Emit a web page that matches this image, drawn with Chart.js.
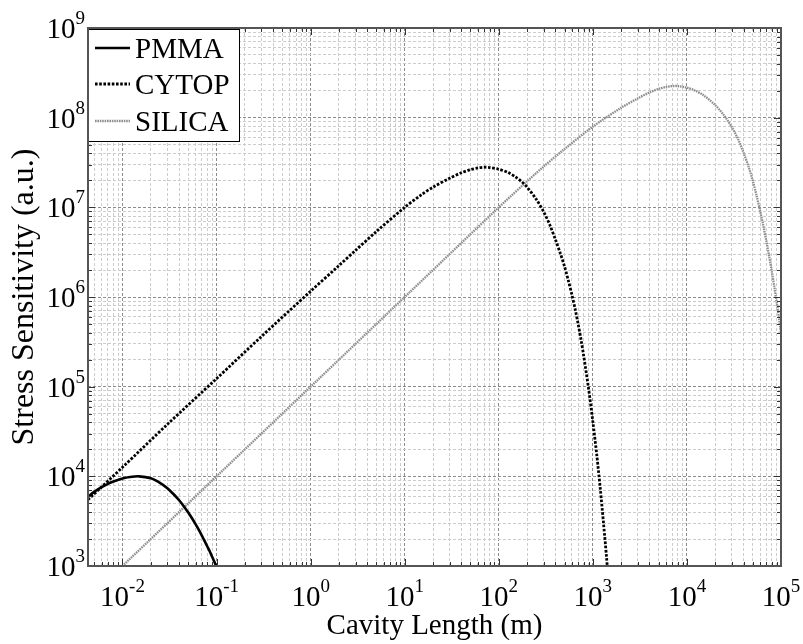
<!DOCTYPE html>
<html>
<head>
<meta charset="utf-8">
<script src="https://cdn.jsdelivr.net/npm/chart.js@4.4.1/dist/chart.umd.min.js"></script>
<style>
    html, body { margin: 0; padding: 0; background: #fff; }
    #chart { display: block; }
</style>
</head>
<body>
<canvas id="chart" width="803" height="644"></canvas>
<script>
// values (log-log)
const pmmaX = [0.0043, 0.005, 0.006, 0.007, 0.008, 0.01, 0.012, 0.015, 0.02, 0.025, 0.03, 0.035, 0.04, 0.045, 0.05, 0.055, 0.06, 0.065, 0.07, 0.075, 0.08, 0.085, 0.09, 0.095, 0.1];
const pmmaY = [5930, 6710, 7570, 8240, 8750, 9460, 9830, 10000, 9510, 8460, 7380, 6310, 5410, 4620, 3950, 3390, 2910, 2510, 2170, 1880, 1640, 1440, 1260, 1110, 980];

const cytopX = [0.0043, 0.01, 0.03, 0.1, 0.3, 1, 2, 3, 5, 10, 15, 20, 30, 40, 50, 60, 70, 80, 100, 125, 150, 175, 200, 250, 300, 350, 400, 450, 500, 550, 600, 650, 700, 750, 800, 900, 1000, 1100, 1200, 1300, 1400, 1500];
const cytopY = [5500, 12600, 38000, 123000, 363000, 1.16e6, 2.24e6, 3.31e6, 5.37e6, 1.0e7, 1.38e7, 1.68e7, 2.11e7, 2.43e7, 2.63e7, 2.75e7, 2.80e7, 2.78e7, 2.66e7, 2.45e7, 2.19e7, 1.93e7, 1.68e7, 1.23e7, 8.91e6, 6.31e6, 4.37e6, 3.09e6, 2.19e6, 1.51e6, 1.05e6, 7.24e5, 4.90e5, 3.31e5, 2.19e5, 9.55e4, 4.07e4, 1.74e4, 7240, 2950, 1230, 500];

const silicaX = [0.01, 0.1, 1, 10, 100, 200, 300, 500, 1000, 2000, 3000, 4000, 5000, 6000, 7000, 8000, 10000, 12000, 15000, 20000, 25000, 30000, 35000, 40000, 45000, 50000, 55000, 60000, 65000, 70000, 75000, 80000, 85000, 90000, 95000, 100000];
const silicaY = [1000, 1.0e4, 1.0e5, 1.0e6, 1.0e7, 1.95e7, 2.85e7, 4.47e7, 7.94e7, 1.29e8, 1.64e8, 1.91e8, 2.09e8, 2.20e8, 2.25e8, 2.25e8, 2.16e8, 2.02e8, 1.78e8, 1.38e8, 1.05e8, 7.85e7, 5.75e7, 4.07e7, 2.88e7, 2.0e7, 1.35e7, 9.12e6, 6.17e6, 4.17e6, 2.82e6, 1.91e6, 1.29e6, 8.71e5, 5.89e5, 3.98e5];

const seriesNames = ['PMMA', 'CYTOP', 'SILICA'];
const xTickExp = [-2, -1, 0, 1, 2, 3, 4, 5];
const yTickExp = [3, 4, 5, 6, 7, 8, 9];

const X_MIN = 0.0043, X_MAX = 1e5;
const Y_MIN = 1e3, Y_MAX = 1e9;
const FONT = "'Liberation Serif', 'Times New Roman', serif";

function toPoints(xs, ys) {
    return xs.map((x, i) => ({ x: x, y: ys[i] }));
}

// 1..9 x 10^n ticks, powers of ten flagged as major
function decadeTicks(exps, min, max) {
    const out = [];
    for (let e = exps[0] - 1; e <= exps[exps.length - 1]; e++) {
        for (let m = 1; m < 10; m++) {
            const v = m * Math.pow(10, e);
            if (v >= min * 0.999 && v <= max * 1.001) out.push({ value: v, major: m === 1 });
        }
    }
    return out;
}

function drawPow(ctx, exp, x, y, align) {
    ctx.font = '29px ' + FONT;
    const w10 = ctx.measureText('10').width;
    ctx.font = '19px ' + FONT;
    const wExp = ctx.measureText(String(exp)).width;
    const total = w10 + wExp;
    const x0 = align === 'right' ? x - total : x - total / 2;
    ctx.textAlign = 'left';
    ctx.textBaseline = 'alphabetic';
    ctx.fillStyle = '#000';
    ctx.font = '29px ' + FONT;
    ctx.fillText('10', x0, y);
    ctx.font = '19px ' + FONT;
    ctx.fillText(String(exp), x0 + w10, y - 14);
}

const framePlugin = {
    id: 'frame',
    afterDraw(chart) {
        const ctx = chart.ctx;
        const ca = chart.chartArea;
        const xs = chart.scales.x, ys = chart.scales.y;
        ctx.save();

        // inward ticks on all four sides
        ctx.strokeStyle = '#333';
        ctx.lineWidth = 1;
        ctx.beginPath();
        xs.ticks.forEach(t => {
            const px = Math.round(xs.getPixelForValue(t.value)) + 0.5;
            const len = t.major ? 7 : 4;
            ctx.moveTo(px, ca.bottom); ctx.lineTo(px, ca.bottom - len);
            ctx.moveTo(px, ca.top); ctx.lineTo(px, ca.top + len);
        });
        ys.ticks.forEach(t => {
            const py = Math.round(ys.getPixelForValue(t.value)) + 0.5;
            const len = t.major ? 7 : 4;
            ctx.moveTo(ca.left, py); ctx.lineTo(ca.left + len, py);
            ctx.moveTo(ca.right, py); ctx.lineTo(ca.right - len, py);
        });
        ctx.stroke();

        // tick labels as 10^n
        xTickExp.forEach(e => {
            drawPow(ctx, e, xs.getPixelForValue(Math.pow(10, e)), ca.bottom + 40, 'center');
        });
        yTickExp.forEach(e => {
            drawPow(ctx, e, ca.left - 3, ys.getPixelForValue(Math.pow(10, e)) + 10, 'right');
        });

        // legend box
        const lx = ca.left, ly = ca.top + 1, lw = 151, lh = 112;
        ctx.fillStyle = '#fff';
        ctx.fillRect(lx, ly, lw, lh);
        ctx.strokeStyle = '#000';
        ctx.lineWidth = 1;
        ctx.strokeRect(lx + 0.5, ly + 0.5, lw, lh);
        const rows = [20, 56, 93];
        chart.data.datasets.forEach((ds, i) => {
            const ry = ca.top + rows[i];
            ctx.strokeStyle = ds.borderColor;
            ctx.lineWidth = ds.borderWidth;
            ctx.setLineDash(ds.borderDash || []);
            ctx.beginPath();
            ctx.moveTo(lx + 7, ry);
            ctx.lineTo(lx + 42, ry);
            ctx.stroke();
            ctx.setLineDash([]);
            ctx.fillStyle = '#000';
            ctx.font = '29px ' + FONT;
            ctx.textAlign = 'left';
            ctx.textBaseline = 'alphabetic';
            ctx.fillText(ds.label, lx + 47, ry + 10);
        });

        // axes box
        ctx.strokeStyle = '#555';
        ctx.lineWidth = 2;
        ctx.strokeRect(ca.left, ca.top, ca.right - ca.left, ca.bottom - ca.top);
        ctx.restore();
    }
};

const ctx = document.getElementById('chart');
new Chart(ctx, {
    type: 'line',
    data: {
        datasets: [
            {
                label: seriesNames[0],
                data: toPoints(pmmaX, pmmaY),
                borderColor: '#000',
                borderWidth: 2.6,
                pointRadius: 0,
                tension: 0.3,
                fill: false
            },
            {
                label: seriesNames[1],
                data: toPoints(cytopX, cytopY),
                borderColor: '#000',
                borderWidth: 2.8,
                borderDash: [2.6, 1.6],
                pointRadius: 0,
                tension: 0.3,
                fill: false
            },
            {
                label: seriesNames[2],
                data: toPoints(silicaX, silicaY),
                borderColor: '#8f8f8f',
                borderWidth: 2.3,
                borderDash: [1.6, 0.8],
                pointRadius: 0,
                tension: 0.3,
                fill: false
            }
        ]
    },
    options: {
        responsive: false,
        animation: false,
        layout: { padding: { top: 28, right: 22, left: 0, bottom: 0 } },
        plugins: {
            legend: { display: false },
            tooltip: { enabled: false }
        },
        scales: {
            x: {
                type: 'logarithmic',
                position: 'bottom',
                min: X_MIN,
                max: X_MAX,
                afterBuildTicks: s => { s.ticks = decadeTicks(xTickExp, X_MIN, X_MAX); },
                afterFit: s => { s.height = 78; },
                ticks: { display: false },
                grid: {
                    drawTicks: false,
                    color: c => (c.tick && c.tick.major) ? '#8c8c8c' : '#cccccc',
                    lineWidth: 1
                },
                border: { display: false, dash: [3, 2] },
                title: {
                    display: true,
                    text: 'Cavity Length (m)',
                    color: '#000',
                    font: { family: FONT, size: 29 },
                    padding: { top: 0, bottom: 0 }
                }
            },
            y: {
                type: 'logarithmic',
                min: Y_MIN,
                max: Y_MAX,
                afterBuildTicks: s => { s.ticks = decadeTicks(yTickExp, Y_MIN, Y_MAX); },
                afterFit: s => { s.width = 88; },
                ticks: { display: false },
                grid: {
                    drawTicks: false,
                    color: c => (c.tick && c.tick.major) ? '#8c8c8c' : '#cccccc',
                    lineWidth: 1
                },
                border: { display: false, dash: [3, 2] },
                title: {
                    display: true,
                    text: 'Stress Sensitivity (a.u.)',
                    color: '#000',
                    font: { family: FONT, size: 32 },
                    padding: { top: 5, bottom: 0 }
                }
            }
        }
    },
    plugins: [framePlugin]
});
</script>
</body>
</html>
